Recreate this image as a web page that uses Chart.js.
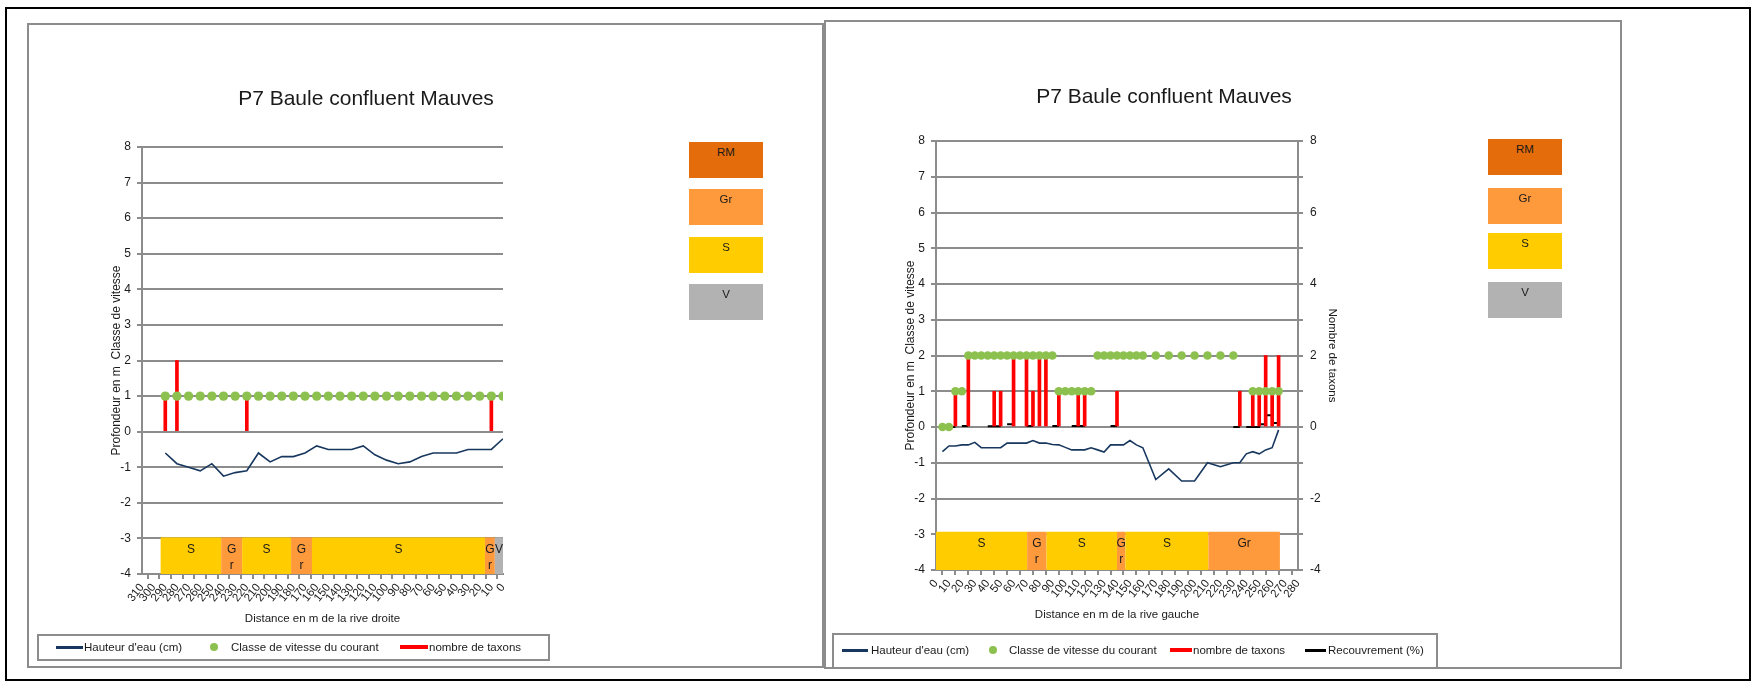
<!DOCTYPE html>
<html>
<head>
<meta charset="utf-8">
<title>P7 Baule confluent Mauves</title>
<script src="https://cdn.jsdelivr.net/npm/chart.js@4.4.1/dist/chart.umd.min.js"></script>
<style>
  body { margin:0; background:#fff; font-family:"Liberation Sans", Arial, sans-serif; color:#1a1a1a; }
  #page { position:relative; width:1754px; height:684px; overflow:hidden; }
  .cadre { position:absolute; box-sizing:border-box; border:2px solid #8c8c8c; }
  .titre { position:absolute; font-size:21px; transform:translate(-50%,-50%); white-space:nowrap; }
  .leg { position:absolute; font-size:11.5px; transform:translateY(-50%); white-space:nowrap; }
  .sub { position:absolute; box-sizing:border-box; width:74px; font-size:11.5px; text-align:center; padding-top:4px; }
  canvas { position:absolute; }
</style>
</head>
<body>
<div id="page">
  <div class="cadre" style="left:5px;top:7px;width:1746px;height:674px;border-color:#000"></div>
  <canvas id="cG" width="795" height="645" style="left:27px;top:23px"></canvas>
  <canvas id="cD" width="797" height="649" style="left:824px;top:20px"></canvas>
  <div class="cadre" style="left:27px;top:23px;width:797px;height:645px"></div>
  <div class="cadre" style="left:824px;top:20px;width:798px;height:649px"></div>
</div>
<script>
const BLEU = '#17375E', VERT = '#8DC14F', ROUGE = '#FF0000', NOIR = '#000000', GRIS = '#8C8C8C', TEXTE = '#1a1a1a';
const couleursSubstrat = { RM: '#E46C0A', Gr: '#FF9A3C', S: '#FFCC00', V: '#B2B2B2' };

const titre = 'P7 Baule confluent Mauves';
const series = ["Hauteur d'eau (cm)", 'Classe de vitesse du courant', 'nombre de taxons', 'Recouvrement (%)'];
const substratLegende = ['RM', 'Gr', 'S', 'V'];

// graphe de gauche : distance depuis la rive droite
const distG = [290,280,270,260,250,240,230,220,210,200,190,180,170,160,150,140,130,120,110,100,90,80,70,60,50,40,30,20,10,0];
const hauteurG = [-0.6,-0.9,-1.0,-1.1,-0.9,-1.25,-1.15,-1.1,-0.6,-0.85,-0.7,-0.7,-0.6,-0.4,-0.5,-0.5,-0.5,-0.4,-0.65,-0.8,-0.9,-0.85,-0.7,-0.6,-0.6,-0.6,-0.5,-0.5,-0.5,-0.2];
const vitesseG = [1,1,1,1,1,1,1,1,1,1,1,1,1,1,1,1,1,1,1,1,1,1,1,1,1,1,1,1,1,1];
const taxonsDistG = [290, 280, 220, 10];
const taxonsG = [1, 2, 1, 1];
const substratG = ['S','Gr','S','Gr','S','Gr','V'];
const debutG = [294, 242, 224, 182, 164, 15.5, 7];
const finG = [242, 224, 182, 164, 15.5, 7, 0];

// graphe de droite : distance depuis la rive gauche
const distD = [5,10,15,20,25,30,35,40,45,50,55,60,65,70,75,80,85,90,95,100,105,110,115,120,125,130,135,140,145,150,155,160,
               170,180,190,200,210,220,230,235,240,245,250,255,260,265];
const hauteurD = [-0.69,-0.53,-0.53,-0.5,-0.5,-0.43,-0.58,-0.58,-0.58,-0.58,-0.45,-0.45,-0.45,-0.45,-0.38,-0.45,-0.45,-0.49,-0.5,-0.57,-0.64,-0.64,-0.64,-0.58,-0.64,-0.7,-0.5,-0.5,-0.5,-0.38,-0.5,-0.58,
                  -1.47,-1.17,-1.51,-1.51,-1.0,-1.11,-1.0,-1.0,-0.75,-0.69,-0.75,-0.64,-0.58,-0.08];
const vitesseD = [0,0,1,1,2,2,2,2,2,2,2,2,2,2,2,2,2,2,1,1,1,1,1,1,2,2,2,2,2,2,2,2,
                  2,2,2,2,2,2,2,null,null,1,1,1,1,1];
const taxonsDistD = [15,25,45,50,60,70,75,80,85,95,110,115,140,235,245,250,255,260,265];
const taxonsD = [1,2,1,1,2,2,1,2,2,1,1,1,1,1,1,1,2,1,2];
const recDebut = [10,20,40,55,70,90,105,135,230,240,250,255,260];
const recFin = [15,25,50,60,75,95,115,140,235,250,255,260,265];
const recouvrement = [0,0.03,0.02,0.08,0.03,0.03,0.03,0.03,0,0,0.08,0.33,0.11];
const substratD = ['S','Gr','S','Gr','S','Gr'];
const debutD = [0, 70.5, 85.5, 140, 146.5, 210.7];
const finD = [70.5, 85.5, 140, 146.5, 210.7, 266];

Chart.defaults.font.family = '"Liberation Sans", Arial, sans-serif';
Chart.defaults.color = TEXTE;

function points(xs, ys) { return xs.map((x, i) => ({ x, y: ys[i] })); }

function segments(debut, fin, val) {
  const pts = [];
  debut.forEach((d, i) => {
    if (i > 0 && fin[i - 1] !== d) pts.push({ x: (fin[i - 1] + d) / 2, y: null });
    pts.push({ x: d, y: val[i] }, { x: fin[i], y: val[i] });
  });
  return pts;
}

// bandes de substrat dessinées en bas du graphe
function bandes(types, debut, fin, haut) {
  return {
    id: 'bandes',
    beforeDatasetsDraw(chart) {
      const { ctx, scales: { x, y } } = chart;
      const yTop = y.getPixelForValue(haut), yBot = y.getPixelForValue(-4);
      ctx.save();
      ctx.font = '12px "Liberation Sans", Arial, sans-serif';
      ctx.textAlign = 'center';
      ctx.textBaseline = 'middle';
      types.forEach((t, i) => {
        const x1 = x.getPixelForValue(debut[i]), x2 = x.getPixelForValue(fin[i]);
        const l = Math.min(x1, x2), w = Math.abs(x2 - x1);
        ctx.fillStyle = couleursSubstrat[t];
        ctx.fillRect(l, yTop, w, yBot - yTop);
        ctx.fillStyle = TEXTE;
        const cx = l + w / 2;
        if (w < 30 && t.length > 1) t.split('').forEach((c, k) => ctx.fillText(c, cx, yTop + 12 + k * 16));
        else ctx.fillText(t, cx, yTop + 12);
      });
      ctx.restore();
    }
  };
}

function axeX(titreAxe, reverse, max, hauteur) {
  return {
    type: 'linear', reverse, min: 0, max, offset: false,
    ticks: { stepSize: 10, maxTicksLimit: 100, autoSkip: false, minRotation: 52, maxRotation: 52, padding: 2, font: { size: 11.5 } },
    grid: { drawOnChartArea: false, tickLength: 5, color: GRIS, lineWidth: 2 },
    border: { display: true, color: GRIS, width: 2 },
    title: { display: true, text: titreAxe, font: { size: 11.5 }, padding: { top: 2, bottom: 4 } },
    afterFit(s) { s.height = hauteur; }
  };
}

function axeY(titreAxe, largeur, decal) {
  return {
    type: 'linear', position: 'left', min: -4, max: 8,
    ticks: { stepSize: 1, padding: 6, font: { size: 12 } },
    grid: { color: GRIS, lineWidth: 2, tickLength: 5 },
    border: { display: true, color: GRIS, width: 2 },
    title: { display: true, text: titreAxe, font: { size: 12 }, padding: { top: decal, bottom: 0 } },
    afterFit(s) { s.width = largeur; }
  };
}

const commun = {
  responsive: false,
  animation: false,
  plugins: { legend: { display: false }, tooltip: { enabled: false } }
};

new Chart(document.getElementById('cG'), {
  type: 'line',
  data: {
    datasets: [
      { label: series[1], data: points(distG, vitesseG), showLine: false, pointRadius: 4.7,
        pointBackgroundColor: VERT, pointBorderColor: VERT, pointBorderWidth: 0 },
      { type: 'bar', label: series[2], data: points(taxonsDistG, taxonsG), backgroundColor: ROUGE, barThickness: 3 },
      { label: series[0], data: points(distG, hauteurG), borderColor: BLEU, borderWidth: 1.6, pointRadius: 0, tension: 0 }
    ]
  },
  options: {
    ...commun,
    layout: { padding: { left: 0, top: 124, right: 319, bottom: 38 } },
    scales: {
      x: axeX('Distance en m de la rive droite', true, 310, 56),
      y: axeY('Profondeur en m  Classe de vitesse', 115, 82)
    }
  },
  plugins: [bandes(substratG, debutG, finG, -2.97)]
});

new Chart(document.getElementById('cD'), {
  type: 'line',
  data: {
    datasets: [
      { label: series[1], data: points(distD, vitesseD), showLine: false, pointRadius: 4.3,
        pointBackgroundColor: VERT, pointBorderColor: VERT, pointBorderWidth: 0 },
      { type: 'bar', label: series[2], data: points(taxonsDistD, taxonsD), backgroundColor: ROUGE, barThickness: 3 },
      { label: series[3], data: segments(recDebut, recFin, recouvrement), borderColor: NOIR, borderWidth: 2, pointRadius: 0, spanGaps: false },
      { label: series[0], data: points(distD, hauteurD), borderColor: BLEU, borderWidth: 1.6, pointRadius: 0, tension: 0 }
    ]
  },
  options: {
    ...commun,
    layout: { padding: { left: 0, top: 121, right: 263, bottom: 43 } },
    scales: {
      x: axeX('Distance en m de la rive gauche', false, 280, 56),
      y: axeY('Profondeur en m  Classe de vitesse', 112, 79),
      y2: {
        type: 'linear', position: 'right', min: -4, max: 8,
        ticks: { stepSize: 1, padding: 7, font: { size: 12 }, callback: v => (v % 2 === 0 ? v : '') },
        grid: { drawOnChartArea: false, tickLength: 5, color: GRIS, lineWidth: 2 },
        border: { display: true, color: GRIS, width: 2 },
        title: { display: true, text: 'Nombre de taxons', font: { size: 11.5 }, padding: { top: 19, bottom: 0 } },
        afterFit(s) { s.width = 60; }
      }
    }
  },
  plugins: [bandes(substratD, debutD, finD, -2.93)]
});

// textes et légendes autour des graphes
const page = document.getElementById('page');
function ajoute(cls, style, texte) {
  const d = document.createElement('div');
  d.className = cls;
  Object.assign(d.style, style);
  if (texte) d.textContent = texte;
  page.appendChild(d);
  return d;
}

ajoute('titre', { left: '366px', top: '98px' }, titre);
ajoute('titre', { left: '1164px', top: '96px' }, titre);

function substrats(left, tops) {
  substratLegende.forEach((s, i) => {
    ajoute('sub', { left: left + 'px', top: tops[i] + 'px', height: '36px', background: couleursSubstrat[s] }, s);
  });
}
substrats(689, [142, 189, 237, 284]);
substrats(1488, [139, 188, 233, 282]);

function legende(boite, yc, items) {
  ajoute('cadre', { left: boite[0] + 'px', top: boite[1] + 'px', width: boite[2] + 'px', height: boite[3] + 'px', background: '#fff' });
  items.forEach(it => {
    if (it.point) {
      ajoute('', { position: 'absolute', left: (it.x - 4) + 'px', top: (yc - 4) + 'px', width: '8px', height: '8px', borderRadius: '50%', background: it.couleur });
    } else {
      ajoute('', { position: 'absolute', left: it.x + 'px', top: (yc - it.h / 2) + 'px', width: it.w + 'px', height: it.h + 'px', background: it.couleur });
    }
    ajoute('leg', { left: it.tx + 'px', top: yc + 'px' }, it.texte);
  });
}

legende([37, 634, 513, 27], 647, [
  { couleur: BLEU, x: 56, w: 27, h: 3, tx: 84, texte: series[0] },
  { couleur: VERT, point: true, x: 213.5, tx: 231, texte: series[1] },
  { couleur: ROUGE, x: 400, w: 28, h: 4, tx: 429, texte: series[2] }
]);
legende([832, 633, 606, 36], 650, [
  { couleur: BLEU, x: 842, w: 26, h: 3, tx: 871, texte: series[0] },
  { couleur: VERT, point: true, x: 993, tx: 1009, texte: series[1] },
  { couleur: ROUGE, x: 1170, w: 22, h: 4, tx: 1193, texte: series[2] },
  { couleur: NOIR, x: 1305, w: 21, h: 3, tx: 1328, texte: series[3] }
]);
</script>
</body>
</html>
